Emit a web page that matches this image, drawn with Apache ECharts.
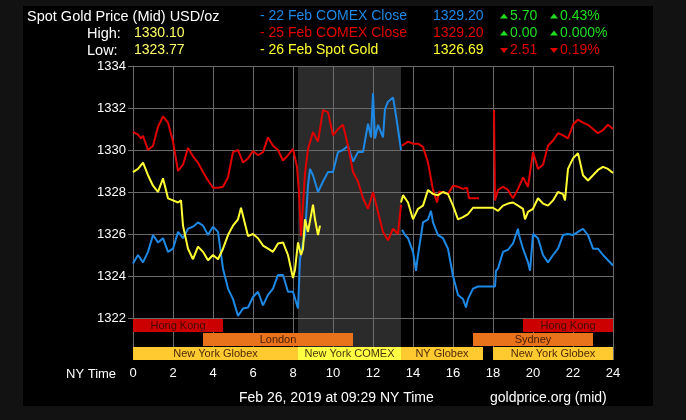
<!DOCTYPE html>
<html><head><meta charset="utf-8">
<script src="https://cdn.jsdelivr.net/npm/echarts@6/dist/echarts.min.js"></script>
<style>html,body{margin:0;padding:0;background:#000}#c{width:686px;height:420px}</style>
</head><body><div id="c"></div>
<script>
// ---------- data ----------
const hourTicks = [0,2,4,6,8,10,12,14,16,18,20,22,24];
const priceTicks = [1322,1324,1326,1328,1330,1332,1334];

// 22 Feb COMEX Close (blue)
const blueT = [0,0.25,0.5,0.75,1,1.25,1.5,1.75,2,2.25,2.5,2.75,3,3.25,3.5,3.75,4,4.25,4.5,4.75,5,5.25,5.5,5.75,6,6.25,6.5,6.75,7,7.25,7.5,7.75,8,8.25,8.35,8.5,8.6,8.75,8.85,9,9.25,9.5,9.75,10,10.25,10.5,10.75,11,11.25,11.5,11.75,11.9,12,12.1,12.25,12.5,12.6,12.75,13,13.1,13.25,13.4,13.42,13.45,13.6,13.75,14,14.15,14.25,14.5,14.75,14.9,15,15.25,15.5,15.75,16,16.25,16.5,16.65,16.75,17,17.25,18.1,18.15,18.25,18.5,18.75,19,19.25,19.3,19.5,19.75,19.85,20,20.25,20.5,20.75,21,21.25,21.5,21.75,22,22.25,22.5,22.75,23,23.25,23.5,23.75,24];
const blueV = [1324.6,1325.0,1324.65,1325.15,1325.95,1325.6,1325.8,1325.15,1325.3,1326.1,1325.8,1326.25,1326.35,1326.55,1326.4,1325.95,1326.35,1326.1,1324.35,1323.4,1322.9,1322.1,1322.45,1322.5,1323.0,1323.25,1322.6,1323.1,1323.4,1324.05,1324.05,1323.25,1323.25,1322.45,1324.8,1325.6,1325.95,1328.3,1329.1,1328.8,1328.0,1328.5,1328.95,1328.95,1329.9,1330.0,1330.2,1329.45,1329.9,1329.9,1331.25,1330.6,1332.7,1330.55,1331.2,1330.6,1331.95,1332.3,1332.5,1331.95,1331.0,1330.0,null,1326.2,1325.95,1325.8,1325.15,1324.25,1325.0,1326.55,1326.7,1327.1,1326.55,1325.95,1325.8,1325.3,1324.0,1323.1,1322.9,1322.5,1322.9,1323.4,1323.5,1323.5,1324.25,1324.35,1325.15,1325.25,1325.55,1326.25,1325.95,1325.3,1324.65,1324.25,1326.0,1325.8,1325.0,1324.65,1325.0,1325.3,1325.95,1326.0,1325.95,1326.1,1326.25,1325.95,1325.3,1325.3,1325.0,1324.75,1324.5];

// 25 Feb COMEX Close (red)
const redT = [0,0.25,0.4,0.5,0.75,1,1.25,1.5,1.75,2,2.25,2.5,2.75,3,3.25,3.5,3.75,4,4.25,4.5,4.75,5,5.25,5.5,5.75,6,6.25,6.5,6.75,7,7.25,7.5,7.75,8,8.2,8.3,8.4,8.5,8.6,8.75,9,9.25,9.5,9.75,10,10.25,10.5,10.75,11,11.25,11.5,11.75,12,12.25,12.5,12.75,13,13.25,13.4,13.42,13.45,13.75,14,14.25,14.5,14.75,15,15.2,15.3,15.5,15.75,16,16.25,16.5,16.7,16.8,17,17.3,17.5,18.05,18.1,18.25,18.5,18.75,19,19.25,19.5,19.75,20,20.25,20.5,20.75,21,21.25,21.5,21.75,22,22.25,22.5,22.75,23,23.25,23.5,23.75,24];
const redV = [1330.86,1330.73,1330.55,1330.67,1330.0,1330.2,1331.1,1331.6,1331.3,1330.4,1329.0,1329.3,1330.1,1329.7,1329.4,1328.95,1328.55,1328.2,1328.2,1328.25,1328.7,1329.9,1330.0,1329.4,1329.6,1329.95,1329.75,1329.9,1330.6,1330.2,1330.0,1329.5,1329.75,1330.05,1329.2,1328.0,1325.9,1327.4,1328.9,1330.05,1330.85,1330.4,1331.9,1331.8,1330.7,1331.0,1331.2,1330.2,1328.95,1328.5,1327.7,1327.2,1328.0,1327.05,1326.1,1325.7,1326.25,1326.0,1327.4,null,1330.2,1330.4,1330.3,1330.3,1330.15,1329.4,1328.1,1327.5,1328.0,1328.0,1327.9,1328.3,1328.25,1328.15,1328.2,1327.7,1327.7,1327.7,null,1331.9,1327.6,1328.1,1328.25,1328.1,1327.7,1328.15,1328.7,1328.25,1329.9,1329.1,1329.3,1330.2,1330.45,1330.8,1330.7,1330.55,1331.2,1331.45,1331.3,1331.2,1331.0,1330.8,1330.95,1331.2,1331.0];

// 26 Feb Spot Gold (yellow)
const yelT = [0,0.25,0.5,0.75,1,1.25,1.5,1.75,2,2.25,2.4,2.5,2.75,3,3.25,3.5,3.75,4,4.25,4.5,4.75,5,5.25,5.4,5.75,6,6.25,6.5,6.75,7,7.25,7.5,7.75,8,8.1,8.25,8.4,8.5,8.6,8.75,9,9.1,9.25,9.35,9.4,13.4,13.5,13.75,14,14.25,14.5,14.75,15,15.25,15.5,15.75,16,16.25,16.5,16.75,17,18,18.25,18.5,18.75,19,19.25,19.5,19.6,19.75,20,20.25,20.5,20.75,21,21.25,21.5,21.6,21.75,22,22.25,22.5,22.75,23,23.25,23.5,23.75,24];
const yelV = [1328.95,1329.1,1329.4,1328.8,1328.3,1328.0,1328.65,1327.7,1327.6,1327.5,1327.6,1326.4,1325.3,1324.8,1325.4,1325.15,1324.75,1325.0,1324.8,1325.3,1325.95,1326.4,1326.7,1327.25,1325.9,1326.0,1325.8,1325.45,1325.3,1325.15,1325.55,1325.6,1325.0,1323.9,1324.3,1325.6,1325.0,1325.3,1326.7,1326.1,1327.4,1326.7,1325.95,1326.4,null,1327.5,1327.85,1327.5,1326.7,1327.2,1327.35,1328.1,1327.9,1327.85,1328.0,1327.9,1327.35,1326.7,1326.8,1326.95,1327.25,1327.25,1327.1,1327.35,1327.45,1327.5,1327.35,1327.2,1326.7,1327.05,1327.2,1327.7,1327.45,1327.35,1327.6,1328.0,1327.9,1327.6,1329.1,1329.6,1329.85,1328.8,1328.55,1328.8,1329.05,1329.2,1329.1,1328.9];

// trading sessions
const sessionNames = ['Hong Kong','London','New York Globex','New York COMEX','NY Globex','Sydney','New York Globex','Hong Kong'];
const sessionRow   = [0,1,2,2,2,1,2,0];
const sessionStart = [0,3.5,0,8.25,13.4,17,18,19.5];
const sessionEnd   = [4.5,11,8.25,13.4,17.5,23,24,24];
const sessionKind  = [0,1,2,3,2,1,2,0];
const comexHours = [8.25, 13.4];

// ---------- styles ----------
const kindFill = ['#cc0000','#e8731a','#ffc930','#ffff44'];
const gridCol = '#6b6b6b';
const FONT = '"Liberation Sans", Arial, sans-serif';
const BLUE = '#1e88e5', RED = '#e00000', YEL = '#ffff33', GREEN = '#22dd22', LYEL = '#ffff66';

const pairs = (T, V) => T.map((t, i) => [t, V[i] === null ? '-' : V[i]]);

const chart = echarts.init(document.getElementById('c'), null, {renderer: 'canvas'});

function txt(text, x, y, fill, size, extra) {
  return Object.assign({type: 'text', z: 100, style: {text, x, y, fill, font: size + 'px ' + FONT, verticalAlign: 'middle', align: 'left'}}, extra || {});
}
function tri(x, y, up, fill) {
  const pts = up ? [[x, y + 2.5], [x + 8, y + 2.5], [x + 4, y - 2.5]] : [[x, y - 2.5], [x + 8, y - 2.5], [x + 4, y + 2.5]];
  return {type: 'polygon', z: 100, shape: {points: pts}, style: {fill}};
}

const graphics = [
  {type: 'rect', z: 100, shape: {x: 0, y: 0, width: 686, height: 6}, style: {fill: '#121212'}},
  {type: 'rect', z: 100, shape: {x: 0, y: 0, width: 23, height: 420}, style: {fill: '#121212'}},
  {type: 'rect', z: 100, shape: {x: 653, y: 0, width: 33, height: 420}, style: {fill: '#121212'}},
  {type: 'rect', z: 100, shape: {x: 0, y: 406, width: 686, height: 14}, style: {fill: '#121212'}},
  txt('Spot Gold Price (Mid) USD/oz', 27, 16.5, '#ffffff', 14.5),
  txt('High:', 87, 33.5, '#ffffff', 14.5),
  txt('1330.10', 134, 33.5, LYEL, 14),
  txt('Low:', 87, 50.5, '#ffffff', 14.5),
  txt('1323.77', 134, 50.5, LYEL, 14),
  txt('- 22 Feb COMEX Close', 260, 16.5, BLUE, 14),
  txt('- 25 Feb COMEX Close', 260, 33.5, RED, 14),
  txt('- 26 Feb Spot Gold', 260, 50.5, YEL, 14),
  txt('1329.20', 433, 16.5, BLUE, 14),
  txt('1329.20', 433, 33.5, RED, 14),
  txt('1326.69', 433, 50.5, YEL, 14),
  tri(500, 16, true, GREEN), txt('5.70', 510, 16.5, GREEN, 14),
  tri(550, 16, true, GREEN), txt('0.43%', 560, 16.5, GREEN, 14),
  tri(500, 33, true, GREEN), txt('0.00', 510, 33.5, GREEN, 14),
  tri(550, 33, true, GREEN), txt('0.000%', 560, 33.5, GREEN, 14),
  tri(500, 50.5, false, RED), txt('2.51', 510, 50.5, RED, 14),
  tri(550, 50.5, false, RED), txt('0.19%', 560, 50.5, RED, 14),
  txt('NY Time', 66, 374, '#ffffff', 13),
  txt('Feb 26, 2019 at 09:29 NY Time', 239, 398.5, '#ffffff', 14),
  txt('goldprice.org (mid)', 490, 398.5, '#ffffff', 14)
];

const option = {
  backgroundColor: '#000',
  animation: false,
  graphic: {elements: graphics},
  grid: [
    {left: 133, top: 66, width: 480, height: 252},
    {left: 133, top: 318, width: 480, height: 42}
  ],
  xAxis: [
    {type: 'value', gridIndex: 0, min: 0, max: 24, interval: 2, z: 1,
     axisLine: {show: false}, axisTick: {show: false}, axisLabel: {show: false},
     splitLine: {show: true, lineStyle: {color: gridCol, width: 1}}},
    {type: 'value', gridIndex: 1, min: 0, max: 24, interval: 2, z: 1,
     axisLine: {show: true, lineStyle: {color: gridCol, width: 1}},
     axisTick: {show: true, length: 4, lineStyle: {color: gridCol}},
     axisLabel: {show: true, color: '#ffffff', fontSize: 13, fontFamily: FONT, margin: 7,
                 formatter: v => hourTicks.includes(v) ? String(v) : ''},
     splitLine: {show: false}}
  ],
  yAxis: [
    {type: 'value', gridIndex: 0, min: 1322, max: 1334, interval: 2, z: 1,
     axisLine: {show: true, lineStyle: {color: gridCol, width: 1}},
     axisTick: {show: true, length: 5, lineStyle: {color: gridCol}},
     axisLabel: {color: '#ffffff', fontSize: 13, fontFamily: FONT, margin: 7,
                 formatter: v => priceTicks.includes(v) ? String(v) : ''},
     splitLine: {show: true, lineStyle: {color: gridCol, width: 1}}},
    {type: 'value', gridIndex: 1, min: 0, max: 3, inverse: true, show: false}
  ],
  series: [
    // COMEX hours shading in the plot
    {type: 'custom', xAxisIndex: 0, yAxisIndex: 0, z: 0, silent: true,
     data: [[comexHours[0], comexHours[1]]], encode: {x: [0, 1]},
     renderItem: (p, api) => {
       const a = api.coord([api.value(0), 1334]);
       const b = api.coord([api.value(1), 1322]);
       return {type: 'rect', shape: {x: a[0], y: a[1], width: b[0] - a[0], height: b[1] - a[1]}, style: {fill: '#2b2b2b'}};
     }},
    // COMEX shading under session bars
    {type: 'custom', xAxisIndex: 1, yAxisIndex: 1, z: 0, silent: true,
     data: [[comexHours[0], comexHours[1]]], encode: {x: [0, 1]},
     renderItem: (p, api) => {
       const a = api.coord([api.value(0), 0]);
       const b = api.coord([api.value(1), 3]);
       return {type: 'rect', shape: {x: a[0], y: a[1], width: b[0] - a[0], height: b[1] - a[1]}, style: {fill: '#2b2b2b'}};
     }},
    // vertical grid lines in the session strip (under the bars)
    {type: 'custom', xAxisIndex: 1, yAxisIndex: 1, z: 1, silent: true,
     data: hourTicks.map(h => [h]), encode: {x: 0},
     renderItem: (p, api) => {
       const a = api.coord([api.value(0), 0]);
       const b = api.coord([api.value(0), 3]);
       const x = Math.round(a[0]) + 0.5;
       return {type: 'line', shape: {x1: x, y1: a[1], x2: x, y2: b[1]}, style: {stroke: gridCol, lineWidth: 1}};
     }},
    // session bars
    {type: 'custom', xAxisIndex: 1, yAxisIndex: 1, z: 2, silent: true,
     data: sessionNames.map((n, i) => [sessionStart[i], sessionEnd[i], sessionRow[i], i]),
     encode: {x: [0, 1], y: 2},
     renderItem: (p, api) => {
       const i = api.value(3);
       const a = api.coord([api.value(0), api.value(2)]);
       const b = api.coord([api.value(1), api.value(2) + 1]);
       return {type: 'group', children: [
         {type: 'rect', shape: {x: a[0], y: a[1] + 1, width: b[0] - a[0], height: b[1] - a[1] - 1}, style: {fill: kindFill[sessionKind[i]]}},
         {type: 'text', style: {text: sessionNames[i], x: (a[0] + b[0]) / 2, y: (a[1] + b[1]) / 2 + 1, align: 'center', verticalAlign: 'middle',
           fill: 'rgba(40,10,0,0.85)', font: '11px ' + FONT}}
       ]};
     }},
    {type: 'line', name: '22 Feb COMEX Close', xAxisIndex: 0, yAxisIndex: 0, z: 4, data: pairs(blueT, blueV),
     showSymbol: false, symbol: 'none', connectNulls: false, lineStyle: {color: BLUE, width: 2}, itemStyle: {color: BLUE}},
    {type: 'line', name: '25 Feb COMEX Close', xAxisIndex: 0, yAxisIndex: 0, z: 5, data: pairs(redT, redV),
     showSymbol: false, symbol: 'none', connectNulls: false, lineStyle: {color: RED, width: 2}, itemStyle: {color: RED}},
    {type: 'line', name: '26 Feb Spot Gold', xAxisIndex: 0, yAxisIndex: 0, z: 6, data: pairs(yelT, yelV),
     showSymbol: false, symbol: 'none', connectNulls: false, lineStyle: {color: YEL, width: 2}, itemStyle: {color: YEL}}
  ]
};
chart.setOption(option);
</script></body></html>
